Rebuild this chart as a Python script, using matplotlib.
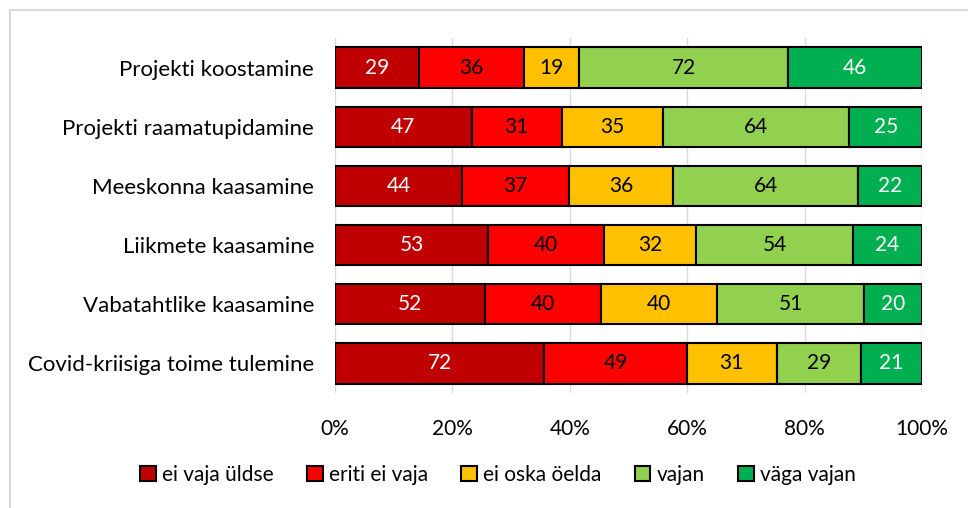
import matplotlib.pyplot as plt
from matplotlib.lines import Line2D
import numpy as np

plt.rcParams['font.family'] = ['Lato', 'DejaVu Sans']

categories = ['Projekti koostamine', 'Projekti raamatupidamine', 'Meeskonna kaasamine',
              'Liikmete kaasamine', 'Vabatahtlike kaasamine', 'Covid-kriisiga toime tulemine']
series = ['ei vaja üldse', 'eriti ei vaja', 'ei oska öelda', 'vajan', 'väga vajan']
ei_vaja_yldse = [29, 47, 44, 53, 52, 72]
eriti_ei_vaja = [36, 31, 37, 40, 40, 49]
ei_oska_oelda = [19, 35, 36, 32, 40, 31]
vajan = [72, 64, 64, 54, 51, 29]
vaga_vajan = [46, 25, 22, 24, 20, 21]

colors = ['#C00000', '#FF0000', '#FFC000', '#92D050', '#00B050']
text_colors = ['white', 'black', 'black', 'black', 'white']

data = np.array([ei_vaja_yldse, eriti_ei_vaja, ei_oska_oelda, vajan, vaga_vajan], dtype=float)
shares = data / data.sum(axis=0)

fig = plt.figure(figsize=(9.68, 5.08), dpi=100)
ax = fig.add_axes([335 / 968, 1 - 393 / 508, 587 / 968, 355 / 508])

y = np.arange(len(categories))
left = np.zeros(len(categories))
for i, name in enumerate(series):
    ax.barh(y, shares[i], left=left, height=0.68, color=colors[i],
            edgecolor='black', linewidth=1.5, label=name, zorder=3)
    for j in range(len(categories)):
        ax.text(left[j] + shares[i][j] / 2, y[j], str(int(data[i][j])),
                ha='center', va='center', fontsize=15, color=text_colors[i], zorder=4)
    left += shares[i]

ax.set_xlim(0, 1)
ax.set_ylim(len(categories) - 0.5, -0.5)
ax.set_yticks(y)
ax.set_yticklabels(categories, fontsize=16)
ax.set_xticks(np.linspace(0, 1, 6))
ax.set_xticklabels(['0%', '20%', '40%', '60%', '80%', '100%'], fontsize=15)
ax.tick_params(axis='y', length=0, pad=15)
ax.tick_params(axis='x', length=0, pad=19)
ax.grid(axis='x', color='#D9D9D9', linewidth=1, zorder=0)
for s in ax.spines.values():
    s.set_visible(False)

ax.legend(loc='center', ncol=5, frameon=False, fontsize=15,
          handlelength=0.75, handleheight=0.75, handletextpad=0.3, columnspacing=1.6,
          bbox_to_anchor=(498 / 968, 1 - 475 / 508), bbox_transform=fig.transFigure)

fig.add_artist(Line2D([10 / 968, 10 / 968], [0, 1 - 10 / 508], color='#D9D9D9', linewidth=1.5))
fig.add_artist(Line2D([10 / 968, 1], [1 - 10 / 508, 1 - 10 / 508], color='#D9D9D9', linewidth=1.5))

fig.savefig('out.png', dpi=100, facecolor='white')
